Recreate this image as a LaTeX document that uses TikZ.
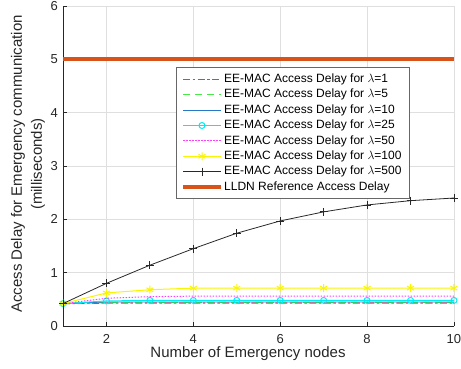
\documentclass[tikz,border=0pt]{standalone}
\usepackage{fontspec}
\setmainfont{Liberation Sans}
\usetikzlibrary{plotmarks}

\definecolor{axisgray}{RGB}{38,38,38}
\definecolor{gridgray}{RGB}{223,223,223}
\definecolor{lldnorange}{RGB}{217,83,25}
\definecolor{matred}{RGB}{255,50,50}
\definecolor{matgreen}{RGB}{70,235,70}
\definecolor{matblue}{RGB}{40,120,200}
\definecolor{matcyan}{RGB}{0,235,245}
\definecolor{matmagenta}{RGB}{255,60,255}
\definecolor{matyellow}{RGB}{250,245,0}
\definecolor{matblack}{RGB}{40,40,40}

\tikzstyle{gridline} = [draw=gridgray, line width=0.6pt]
\tikzstyle{axis} = [draw=axisgray, line width=0.7pt]
\tikzstyle{ticklabel} = [text=axisgray, font=\fontsize{13}{15}\selectfont, inner sep=0pt]
\tikzstyle{axislabel} = [text=axisgray, font=\fontsize{15}{20}\selectfont, align=center]
\tikzstyle{entry} = [anchor=west, text=black, font=\fontsize{12}{14}\selectfont, inner sep=0pt]
\tikzstyle{lam1} = [color=matred, draw=matred, dash pattern=on 7pt off 2.5pt on 2.5pt off 2.5pt, line width=1.2pt]
\tikzstyle{lam5} = [color=matgreen, draw=matgreen, dash pattern=on 7pt off 5pt, line width=1.2pt]
\tikzstyle{lam10} = [color=matblue, draw=matblue, line width=0.8pt]
\tikzstyle{lam25} = [color=matcyan, draw=matcyan, line width=1pt, mark=o, mark size=3pt, mark options={solid}]
\tikzstyle{lam50} = [color=matmagenta, draw=matmagenta, dash pattern=on 1.5pt off 1.5pt, line width=1pt]
\tikzstyle{lam100} = [color=matyellow, draw=matyellow, line width=1pt, mark=asterisk, mark size=4pt, mark options={solid}]
\tikzstyle{lam500} = [color=matblack, draw=matblack, line width=0.8pt, mark=+, mark size=4pt, mark options={solid}]
\tikzstyle{lldn} = [draw=lldnorange, line width=4pt]

\begin{document}
\begin{tikzpicture}[x=1pt, y=1pt]
\useasboundingbox (0,0) rectangle (461,368);

% data area: x in nodes, y in milliseconds
\begin{scope}[shift={(19.56,42)}, x=43.44pt, y=53.33pt]
    % grid
    \foreach \gx in {2,4,...,10}
        \draw[gridline] (\gx,0) -- (\gx,6);
    \foreach \gy in {1,...,6}
        \draw[gridline] (1,\gy) -- (10,\gy);
    % axes and ticks
    \draw[axis] (1,6) -- (1,0) -- (10,0);
    \foreach \gx in {2,4,...,10} {
        \draw[axis] (\gx,0) -- ++(0,4pt);
        \node[ticklabel, anchor=north] (xt\gx) at ([yshift=-8pt]\gx,0) {\gx};
    }
    \foreach \gy in {0,...,6} {
        \draw[axis] (1,\gy) -- ++(4pt,0);
        \node[ticklabel, anchor=east] (yt\gy) at ([xshift=-5pt]1,\gy) {\gy};
    }
    % curves
    \draw[lam1] plot coordinates {(1,0.42) (2,0.43) (3,0.43) (4,0.43) (5,0.43) (6,0.43) (7,0.43) (8,0.43) (9,0.43) (10,0.43)};
    \draw[lam5] plot coordinates {(1,0.42) (2,0.44) (3,0.44) (4,0.44) (5,0.44) (6,0.44) (7,0.44) (8,0.44) (9,0.44) (10,0.44)};
    \draw[lam10] plot coordinates {(1,0.42) (2,0.45) (3,0.45) (4,0.45) (5,0.45) (6,0.45) (7,0.45) (8,0.45) (9,0.45) (10,0.45)};
    \draw[lam25] plot coordinates {(1,0.42) (2,0.47) (3,0.48) (4,0.48) (5,0.48) (6,0.48) (7,0.48) (8,0.48) (9,0.48) (10,0.48)};
    \draw[lam50] plot coordinates {(1,0.42) (2,0.52) (3,0.55) (4,0.56) (5,0.56) (6,0.56) (7,0.56) (8,0.56) (9,0.56) (10,0.56)};
    \draw[lam100] plot coordinates {(1,0.42) (2,0.62) (3,0.68) (4,0.71) (5,0.71) (6,0.71) (7,0.71) (8,0.71) (9,0.71) (10,0.71)};
    \draw[lam500] plot coordinates {(1,0.42) (2,0.80) (3,1.14) (4,1.45) (5,1.74) (6,1.97) (7,2.14) (8,2.27) (9,2.35) (10,2.40)};
    \draw[lldn] (1,5) -- (10,5);
\end{scope}

% axis labels
\node[axislabel] (xlabel) at (248,14) {Number of Emergency nodes};
\node[axislabel, rotate=90] (ylabel) at (28,204) {Access Delay for Emergency communication\\(milliseconds)};

% legend
\draw[draw=axisgray!70, fill=white, line width=0.6pt] (176,170) rectangle (409,301);
\foreach \i/\lam/\sty in {0/1/lam1, 1/5/lam5, 2/10/lam10, 3/25/lam25, 4/50/lam50, 5/100/lam100, 6/500/lam500} {
    \node[entry] (e\i) at (224,{288.7-15.4*\i}) {EE-MAC Access Delay for $\lambda$=\lam};
    \coordinate (s\i) at ([xshift=-41pt]e\i.west);
    \coordinate (m\i) at ([xshift=-22pt]e\i.west);
    \coordinate (t\i) at ([xshift=-3pt]e\i.west);
    \draw[\sty, mark indices={2}] plot coordinates {(s\i) (m\i) (t\i)};
}
\node[entry] (e7) at (224,180.9) {LLDN Reference Access Delay};
\draw[lldn] ([xshift=-41pt]e7.west) -- ([xshift=-3pt]e7.west);
\end{tikzpicture}
\end{document}
